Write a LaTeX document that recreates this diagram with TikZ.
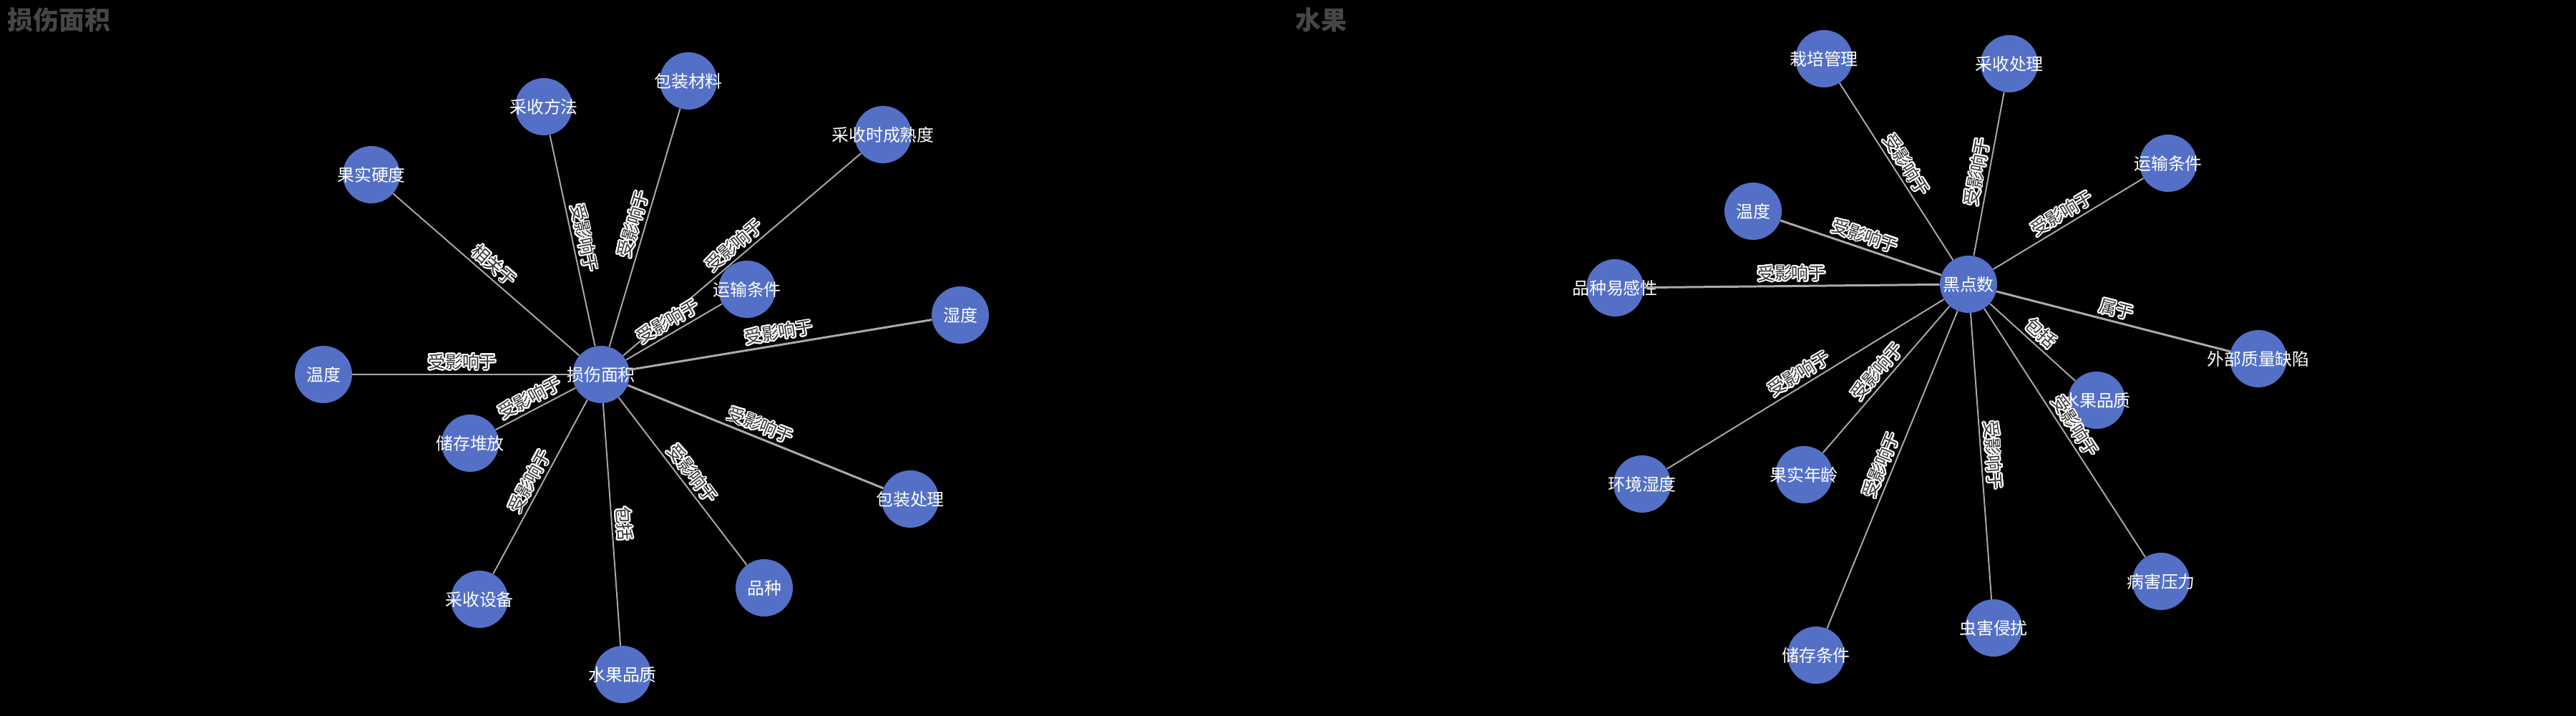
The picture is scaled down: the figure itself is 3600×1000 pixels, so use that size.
\documentclass[tikz,border=0pt]{standalone}
\usepackage{fontspec}
\setmainfont{Noto Sans CJK SC}
\usepackage[copies]{contour}
\contourlength{1.1pt}
\definecolor{entblue}{HTML}{5470C6}
\definecolor{linkgray}{HTML}{AAAAAA}
\definecolor{titlegray}{HTML}{464646}
\definecolor{relgray}{HTML}{333333}
\newcommand{\halo}[1]{\contour{white}{#1}}

\begin{document}
\begin{tikzpicture}[x=0.02cm, y=-0.02cm,
  entname/.style={text=white, inner sep=0pt, font=\fontsize{13.6}{14}\selectfont},
  ent/.style={circle, fill=entblue, minimum size=1.6cm, inner sep=0pt,
    label={[entname]center:#1}},
  link/.style={draw=linkgray, line width=1.1pt},
  heavy/.style={draw=linkgray, line width=1.7pt},
  rel/.style={midway, sloped, above=1pt, inner sep=1pt, text=relgray,
    font=\fontsize{13.6}{14}\selectfont},
  heading/.style={anchor=west, inner sep=0pt, text=titlegray,
    font=\fontsize{20.5}{22}\selectfont\bfseries}]

  % canvas
  \fill[black] (0,0) rectangle (3600,1000);

  % titles
  \node[heading] (title1) at (10,28) {损伤面积};
  \node[heading] (title2) at (1810,28) {水果};

  % left graph: entities
  \node[ent=损伤面积] (dmg) at (840,523) {};
  \node[ent=果实硬度] (firm) at (519,244) {};
  \node[ent=采收方法] (hmeth) at (760,149) {};
  \node[ent=包装材料] (pmat) at (962,113) {};
  \node[ent=采收时成熟度] (ripe) at (1234,188) {};
  \node[ent=运输条件] (trans) at (1044,404) {};
  \node[ent=湿度] (humid) at (1342,440) {};
  \node[ent=温度] (temp) at (452,523) {};
  \node[ent=储存堆放] (stack) at (657,619) {};
  \node[ent=包装处理] (pack) at (1272,697) {};
  \node[ent=品种] (var) at (1068,821) {};
  \node[ent=采收设备] (hequip) at (670,837) {};
  \node[ent=水果品质] (qual) at (870,942) {};

  % left graph: relations
  \draw[link] (firm) -- (dmg) node[rel]{\halo{相关于}};
  \draw[link] (hmeth) -- (dmg) node[rel]{\halo{受影响于}};
  \draw[link] (pmat) -- (dmg) node[rel]{\halo{受影响于}};
  \draw[link] (ripe) -- (dmg) node[rel]{\halo{受影响于}};
  \draw[link] (trans) -- (dmg) node[rel]{\halo{受影响于}};
  \draw[heavy] (humid) -- (dmg) node[rel]{\halo{受影响于}};
  \draw[heavy] (temp) -- (dmg) node[rel]{\halo{受影响于}};
  \draw[link] (stack) -- (dmg) node[rel]{\halo{受影响于}};
  \draw[heavy] (pack) -- (dmg) node[rel]{\halo{受影响于}};
  \draw[link] (var) -- (dmg) node[rel]{\halo{受影响于}};
  \draw[link] (hequip) -- (dmg) node[rel]{\halo{受影响于}};
  \draw[link] (qual) -- (dmg) node[rel]{\halo{包括}};

  % right graph: entities
  \node[ent=黑点数] (spot) at (2751,397) {};
  \node[ent=栽培管理] (cult) at (2549,82) {};
  \node[ent=采收处理] (harv) at (2808,89) {};
  \node[ent=运输条件] (trans2) at (3030,228) {};
  \node[ent=温度] (temp2) at (2450,295) {};
  \node[ent=品种易感性] (suscept) at (2257,402) {};
  \node[ent=外部质量缺陷] (defect) at (3156,501) {};
  \node[ent=水果品质] (qual2) at (2930,559) {};
  \node[ent=环境湿度] (envh) at (2295,676) {};
  \node[ent=果实年龄] (age) at (2521,663) {};
  \node[ent=病害压力] (disease) at (3020,812) {};
  \node[ent=虫害侵扰] (pest) at (2786,877) {};
  \node[ent=储存条件] (store) at (2538,915) {};

  % right graph: relations
  \draw[link] (cult) -- (spot) node[rel]{\halo{受影响于}};
  \draw[link] (harv) -- (spot) node[rel]{\halo{受影响于}};
  \draw[link] (trans2) -- (spot) node[rel]{\halo{受影响于}};
  \draw[heavy] (temp2) -- (spot) node[rel]{\halo{受影响于}};
  \draw[heavy] (suscept) -- (spot) node[rel]{\halo{受影响于}};
  \draw[heavy] (defect) -- (spot) node[rel]{\halo{属于}};
  \draw[link] (qual2) -- (spot) node[rel]{\halo{包括}};
  \draw[link] (envh) -- (spot) node[rel]{\halo{受影响于}};
  \draw[link] (age) -- (spot) node[rel]{\halo{受影响于}};
  \draw[link] (store) -- (spot) node[rel]{\halo{受影响于}};
  \draw[link] (pest) -- (spot) node[rel]{\halo{受影响于}};
  \draw[link] (disease) -- (spot) node[rel]{\halo{受影响于}};

\end{tikzpicture}
\end{document}
